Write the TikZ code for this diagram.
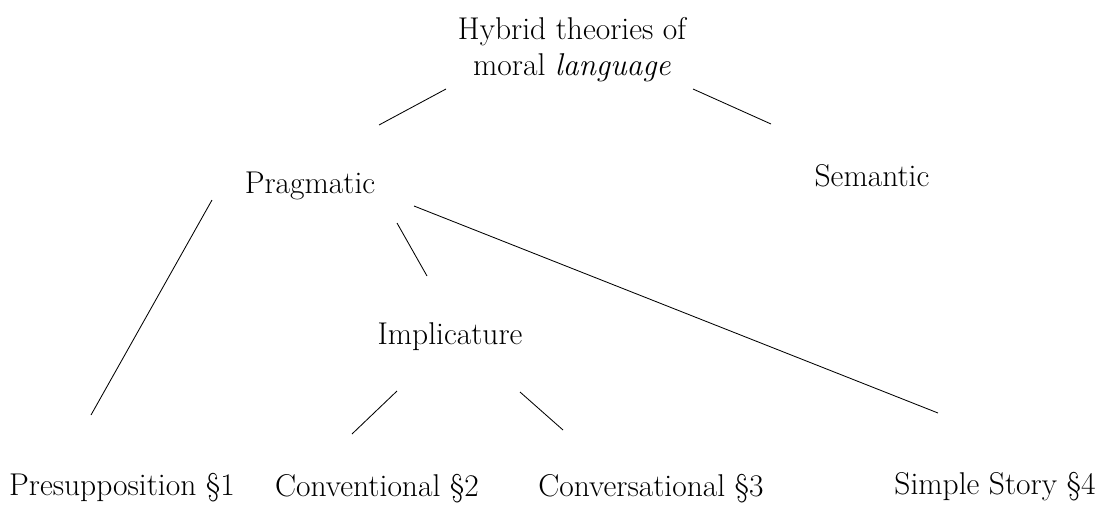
\documentclass[tikz,border=0pt]{standalone}
\usepackage{tikz}
\tikzstyle{label}=[inner sep=0pt, font=\fontsize{22.4}{25}\selectfont]
\tikzstyle{branch}=[line width=0.6pt]
\usetikzlibrary{positioning,calc}

\begin{document}
\begin{tikzpicture}
    \useasboundingbox (0,0) rectangle (27.5,12.6);
    \node [label,align=center] (hyb) at (14.3,11.36) {Hybrid theories of\\moral \textit{language}};
    \node [label,anchor=base] (prag) at (7.75,7.775) {Pragmatic};
    \node [label,anchor=base] (sem) at (21.8,7.95) {Semantic};
    \node [label,anchor=base] (impl) at (11.25,4.0) {Implicature};
    \node [label,anchor=base] (pre) at (3.05,0.225) {Presupposition \S1};
    \node [label,anchor=base] (conv) at (9.425,0.2) {Conventional \S2};
    \node [label,anchor=base] (cvs) at (16.275,0.2) {Conversational \S3};
    \node [label,anchor=base] (simp) at (24.875,0.25) {Simple Story \S4};
    % branches
    \draw [branch] ([shift={(-3.15,-0.985)}]hyb.center) -- ([shift={(1.725,1.7)}]prag.base);
    \draw [branch] ([shift={(3.025,-0.985)}]hyb.center) -- ([shift={(-2.525,1.55)}]sem.base);
    \draw [branch] ([shift={(-2.45,-0.175)}]prag.base) -- ([shift={(-0.775,2.0)}]pre.base);
    \draw [branch] ([shift={(2.175,-0.75)}]prag.base) -- ([shift={(-0.575,1.7)}]impl.base);
    \draw [branch] ([shift={(2.6,-0.325)}]prag.base) -- ([shift={(-1.425,2.025)}]simp.base);
    \draw [branch] ([shift={(-1.325,-1.175)}]impl.base) -- ([shift={(-0.625,1.55)}]conv.base);
    \draw [branch] ([shift={(1.75,-1.2)}]impl.base) -- ([shift={(-2.2,1.65)}]cvs.base);
\end{tikzpicture}
\end{document}
